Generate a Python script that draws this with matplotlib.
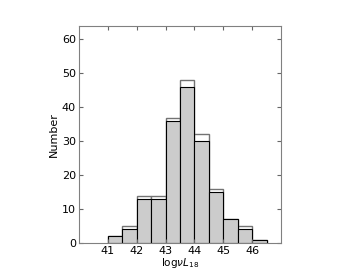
import numpy as np
import matplotlib
matplotlib.use('Agg')
import matplotlib.pyplot as plt

# bin edges of log nu L18 (width 0.5)
bin_edges = [41.0, 41.5, 42.0, 42.5, 43.0, 43.5, 44.0, 44.5, 45.0, 45.5, 46.0, 46.5]
# full sample (outline) and sub-sample (filled)
counts_all = [2, 5, 14, 14, 37, 48, 32, 16, 7, 5, 1]
counts_sub = [2, 4, 13, 13, 36, 46, 30, 15, 7, 4, 1]

centers = np.array(bin_edges[:-1]) + 0.25

fig = plt.figure(figsize=(3.6, 2.7), dpi=100)
ax = fig.add_axes([0.219, 0.1, 0.562, 0.804])

ax.hist(centers, bins=bin_edges, weights=counts_all, histtype='bar',
        facecolor='white', edgecolor='0.45', linewidth=1.0)
ax.hist(centers, bins=bin_edges, weights=counts_sub, histtype='bar',
        facecolor='0.8', edgecolor='black', linewidth=0.8)

ax.set_xlim(40, 47)
ax.set_ylim(0, 64)
ax.set_xticks([41, 42, 43, 44, 45, 46])
ax.set_yticks([0, 10, 20, 30, 40, 50, 60])
ax.tick_params(direction='in', top=True, right=True, labelsize=8, length=3,
               color='0.4', pad=2)
for s in ax.spines.values():
    s.set_color('0.5')

ax.set_xlabel(r'log$\nu L_{18}$', fontsize=7.5, labelpad=0)
ax.set_ylabel('Number', fontsize=8, labelpad=2)

plt.savefig('out.png', dpi=100)
